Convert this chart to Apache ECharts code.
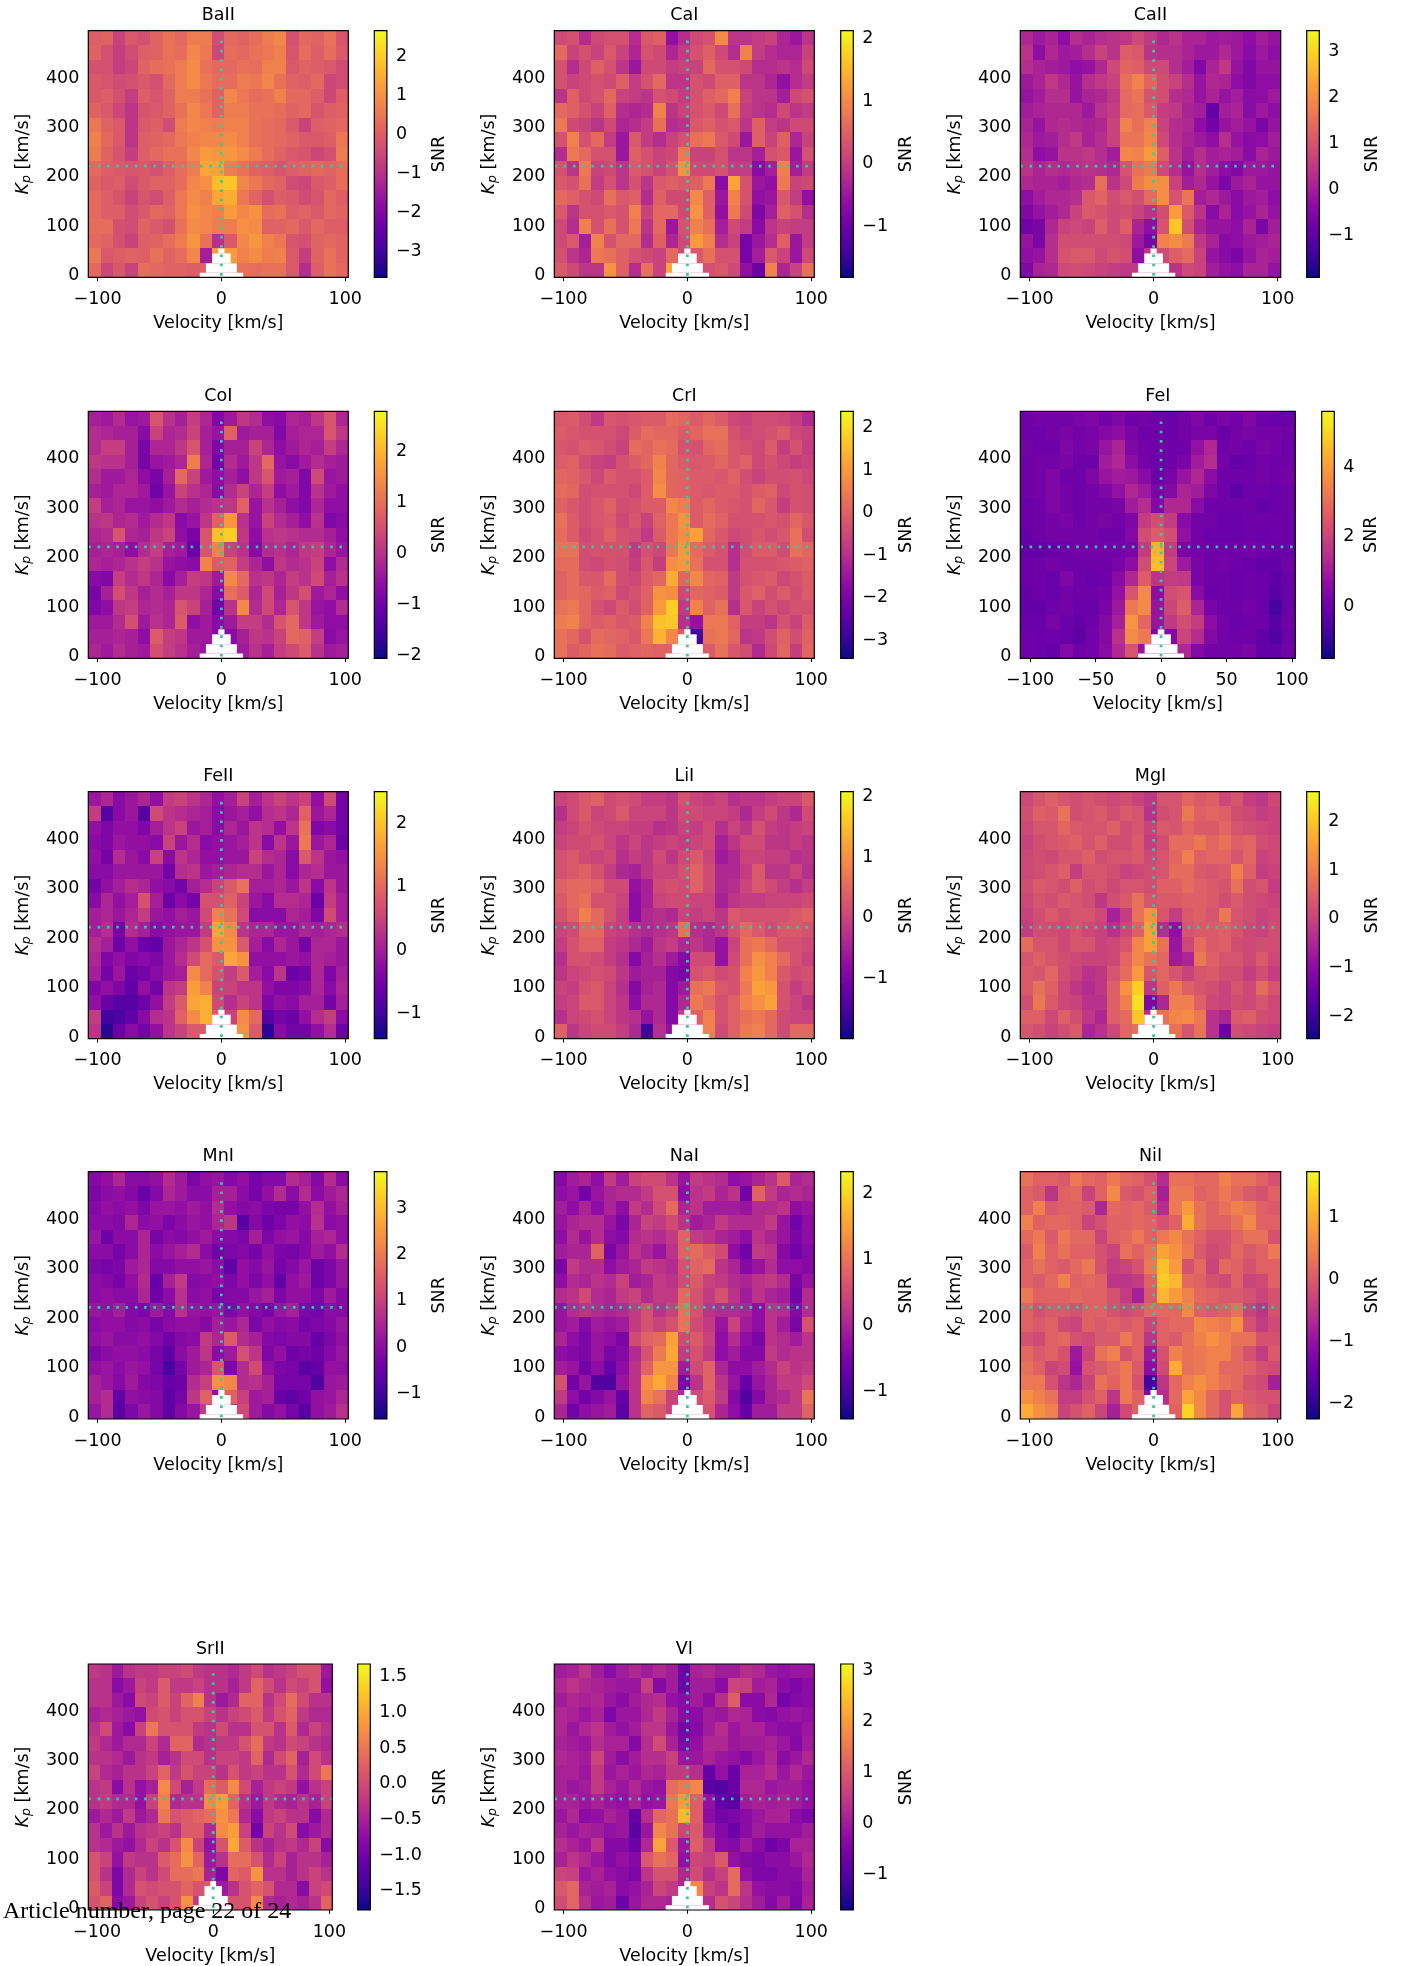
<!DOCTYPE html>
<html><head><meta charset="utf-8">
<style>html,body{margin:0;padding:0;background:#fff}#c{width:1402px;height:1966px}</style>
<script src="https://cdn.jsdelivr.net/npm/echarts@6/dist/echarts.min.js"></script>
</head><body><div id="c"></div>
<script>
// SNR values in tenths at a reduced resolution:
// 21 velocity columns (10 km/s) and 17 Kp rows, listed from the top row down.
const BaII=[[0,1,-6,-1,-3,1,4,2,6,6,-4,2,1,3,6,8,-3,2,1,4,-2],[1,-3,-7,-4,0,1,4,3,8,5,-5,3,2,4,5,7,-2,3,0,3,-1],[-3,-3,-7,-5,1,3,4,6,9,4,2,2,4,3,7,7,-1,1,0,-1,-4],[-1,-2,-4,-3,-1,-3,2,6,9,5,3,3,6,5,8,4,1,0,2,-5,-4],[-1,0,-3,-7,0,-2,1,6,6,4,1,8,5,3,4,7,2,2,0,-5,0],[1,-1,-5,-9,-2,-1,1,4,8,5,1,6,6,4,4,3,1,2,-2,0,1],[5,1,-1,-9,-1,0,-4,6,8,7,6,7,7,4,3,2,-1,-6,0,1,2],[7,2,-1,-9,0,1,2,5,7,8,8,9,7,4,3,2,1,-1,-1,0,5],[6,1,-2,-7,0,2,4,4,8,12,11,11,9,6,3,1,-1,-2,-5,-3,6],[2,0,-1,-2,-1,-3,0,3,6,14,13,6,4,1,0,-2,0,1,2,1,3],[1,-1,0,-4,-1,1,1,3,8,10,18,19,8,5,2,1,-4,-5,-1,0,3],[2,0,-2,-6,-2,-4,0,5,9,7,14,15,5,1,-3,0,-1,-4,-2,2,0],[2,0,0,-4,-1,2,1,5,10,8,7,12,8,10,3,4,0,1,-1,2,1],[3,3,-3,-4,1,-1,-3,4,9,8,6,6,10,9,1,1,2,-1,2,0,0],[2,1,-3,-6,0,1,3,6,11,4,-10,-1,8,11,7,5,-2,-3,1,2,1],[5,-1,0,1,0,4,1,3,8,-14,12,12,7,9,6,7,-1,-7,1,4,1],[2,-5,-1,-6,3,2,1,1,0,1,1,1,4,3,4,4,-1,-11,0,4,2]];
const CaI=[[2,3,-2,2,3,3,-2,4,5,-6,-2,2,3,10,-1,-1,0,1,-3,-5,-1],[6,1,3,1,4,1,-3,3,2,-3,0,3,5,2,-2,9,0,-2,-3,-3,1],[3,-2,2,5,3,-1,-5,2,2,0,1,1,6,3,3,2,-2,-2,-1,-2,2],[3,1,2,3,2,5,0,3,6,-1,-1,3,2,5,5,-1,-1,-3,-6,-2,0],[-1,5,2,3,6,1,0,-1,3,2,0,3,5,6,9,1,-1,-1,-4,2,3],[6,5,3,1,5,-2,-3,-2,9,-1,1,3,4,2,7,0,-1,-2,2,-1,0],[8,2,1,-1,2,-3,-2,0,7,-2,-1,4,5,3,4,-1,5,0,-1,2,2],[3,9,3,6,0,-5,4,0,-2,1,3,7,8,4,2,-5,5,1,5,-3,1],[-2,8,6,3,3,-5,5,3,1,2,8,1,1,3,-1,-1,-4,3,4,-5,3],[3,-1,8,1,2,-1,4,3,1,3,11,2,2,3,0,0,-7,-4,9,-4,0],[4,3,7,0,3,-1,3,-1,4,5,4,5,8,-7,13,3,-5,-6,8,1,2],[6,5,3,2,7,4,5,-2,5,2,2,10,5,-5,9,3,-6,-5,4,0,-6],[4,-1,3,3,4,3,9,1,6,6,2,11,5,-6,8,2,-8,-4,5,3,-2],[2,-2,9,3,7,3,8,-1,6,-5,3,9,7,-4,2,0,-7,-1,1,0,0],[2,4,-4,9,3,6,6,-2,5,-3,2,12,9,-2,1,-9,-5,-2,5,-5,0],[3,-1,-3,8,7,5,3,2,1,6,2,4,7,3,3,-9,-4,4,1,-5,2],[4,2,-1,-1,11,5,-2,7,1,13,3,3,3,4,2,-6,-10,9,-3,1,7]];
const CaII=[[2,-1,1,-3,3,1,3,4,5,8,5,2,4,1,1,-1,0,-1,-3,0,-2],[4,-3,2,-1,0,3,7,4,12,11,4,3,3,1,-1,-1,2,-1,-4,-1,-3],[3,1,0,-1,-3,-2,2,8,13,12,8,8,3,0,-5,1,5,-2,-5,-2,-2],[-1,1,5,2,-2,3,5,7,15,18,13,9,7,3,-2,2,1,-3,-5,-3,-3],[-2,0,3,3,-2,1,2,5,14,16,10,9,3,2,-2,1,-2,0,-4,-3,-1],[0,1,2,2,2,-1,4,6,14,15,11,6,5,1,0,-9,0,1,-4,-1,-3],[1,-2,2,3,2,1,2,7,18,15,18,7,3,2,-3,-7,-2,0,-2,-6,-2],[2,-1,0,3,5,1,3,7,16,16,19,8,3,1,-1,-3,3,-2,-4,-3,0],[3,-3,-2,4,4,5,3,0,19,18,22,12,4,0,3,0,1,0,-4,1,-1],[4,1,3,2,3,4,3,2,10,15,17,8,3,-2,3,0,-3,-5,-1,-1,-2],[2,1,1,0,2,3,15,4,8,17,20,20,7,0,2,-2,-6,-1,1,-2,-2],[-3,0,2,2,3,11,13,9,11,9,14,20,10,16,0,2,-1,-4,-1,0,-3],[-5,-2,0,2,7,11,10,8,9,7,4,9,22,11,4,-4,1,-4,-2,1,-2],[-7,-6,2,7,8,7,12,8,12,1,-3,10,28,9,1,-2,-2,-3,1,-6,0],[-2,-6,3,9,9,9,9,9,8,-1,-6,18,20,17,5,1,-4,-3,-1,0,1],[-3,-2,3,10,11,11,8,10,9,-3,4,8,12,14,7,-2,-4,-6,-2,1,0],[-5,1,2,8,9,8,7,6,5,5,5,5,4,8,7,0,-2,-3,1,1,-2]];
const CoI=[[-3,-4,-1,-5,-4,6,0,-3,2,-2,-8,-4,1,-1,-6,-7,-2,-3,1,6,-2],[-1,-2,-3,-3,-7,3,-2,-1,3,-3,-5,8,-4,-3,-3,-8,-3,-2,-2,6,1],[-1,2,2,-3,-9,-2,-2,1,6,-3,-8,-3,-3,3,-2,-6,-4,-2,-3,2,-2],[1,0,0,-3,-9,-5,-4,-2,12,-2,-10,-1,-4,1,9,-5,-7,-4,-1,-3,-4],[-1,-4,-4,-2,-6,-9,-3,9,3,-4,-6,-3,-6,1,6,-4,-3,-8,4,-5,-4],[-3,-4,-2,-2,-4,-10,-5,3,0,-2,-7,-1,3,-2,2,-6,-4,-8,0,-4,-6],[2,-3,-2,-5,-5,-6,-4,-1,-3,-1,0,1,8,-5,0,-3,-6,-8,-2,-6,-6],[0,1,-2,-1,-4,-1,1,-7,-5,1,8,16,0,-5,3,-1,-3,-6,0,-8,-7],[-2,-1,6,-2,-3,1,3,-6,-9,6,21,23,1,-6,0,1,0,-1,-1,-3,-6],[-3,-2,-3,-6,-1,2,-3,-4,-11,6,13,3,0,-7,-1,0,-2,1,2,-2,-5],[-2,-3,-2,0,2,0,-5,-6,-7,13,7,8,2,-2,-6,1,-1,0,3,-6,-1],[-7,-8,2,-1,1,-2,-7,-3,2,1,-4,14,9,0,1,-2,2,0,4,-3,0],[-9,-3,5,1,-3,-1,-3,1,1,-2,-7,10,7,-2,4,-3,1,5,-4,-2,-6],[-8,-6,1,2,-2,-1,-2,6,3,-3,-10,0,14,-1,4,-2,6,1,-5,-6,-1],[-4,-4,-1,5,-4,0,-2,7,-6,-4,-7,-4,2,2,-1,6,9,1,-4,-6,-6],[-3,-3,-2,-3,-6,7,2,1,-4,-4,-7,-7,-3,1,0,3,9,8,2,-7,-5],[-2,-4,-1,-3,-4,5,2,0,-3,-5,-4,-3,-4,0,-3,2,4,7,0,-4,-3]];
const CrI=[[-2,-1,-4,-8,-2,-3,-2,-1,-1,2,1,-1,1,-1,-5,-6,-4,-4,-5,-7,-11],[-1,-2,-3,-3,-3,-5,-1,2,1,1,-1,1,3,3,-3,-5,-4,-3,-1,-5,-6],[-2,-3,-1,-2,-4,-6,2,1,3,2,-3,-3,1,2,-2,-3,-5,-1,-7,-3,-7],[-1,0,-4,-6,-7,-3,-1,1,6,1,-1,-2,-1,1,-2,0,-5,-3,-5,-7,-6],[1,0,-2,-5,-1,-3,-3,-1,7,1,0,-1,-1,-2,0,-4,-6,-4,-4,-3,-5],[2,1,-4,-3,-3,-3,-5,-1,8,1,0,-1,-2,-1,-1,-3,-1,0,-5,-3,-4],[0,-2,-4,-2,0,-4,-3,-1,-1,7,5,-1,1,-1,-2,-3,1,-2,-7,-3,-4],[3,-1,-4,-2,-1,-5,-2,-6,0,4,9,-1,2,0,-3,-3,-3,-2,-3,1,-2],[2,-1,-5,-3,0,-3,-4,-8,-1,4,8,11,1,-2,-5,-4,-2,-4,-2,3,-4],[3,3,-4,-3,-3,-3,-8,-3,-5,4,10,2,-1,-3,-10,-4,-1,-1,-4,3,1],[2,2,-4,-5,-3,-4,-7,-2,-7,8,10,3,-3,-3,-10,-3,-3,-3,-2,-1,0],[0,2,-2,-2,2,-4,-5,-1,1,13,1,7,1,0,-8,-3,-2,-1,-5,-3,-1],[0,2,1,-1,0,-5,-3,0,9,8,-5,1,0,-1,-8,-2,0,-4,-1,-4,-1],[3,4,1,-3,-5,-1,-4,0,10,18,-8,6,0,3,-10,-2,-6,-3,-5,-3,-3],[5,6,1,-1,0,-2,-1,6,16,17,-10,-16,4,4,0,-7,-7,-9,-3,-6,-1],[3,1,-3,2,1,0,-2,4,14,7,-1,-28,3,4,1,-9,-8,-4,0,-4,0],[3,-1,1,3,2,-1,0,1,0,0,-1,0,-1,3,-2,-4,-11,-5,1,-7,1]];
const FeI=[[0,1,1,1,2,3,1,3,0,1,0,-1,1,3,0,2,1,3,0,-1,-1],[0,0,1,2,1,2,4,6,2,0,0,-1,1,2,2,-1,1,2,1,1,0],[1,0,0,3,1,2,8,12,3,1,0,0,0,7,13,0,1,0,2,1,-1],[0,1,1,2,0,0,10,13,6,1,-1,0,2,10,14,1,-2,-1,1,0,0],[0,1,3,0,0,3,8,10,9,5,-1,2,8,13,6,0,0,0,1,0,1],[0,1,3,1,0,1,3,7,13,9,2,4,12,10,3,0,-3,0,0,-1,0],[-1,0,3,1,0,1,1,2,10,14,4,13,13,5,0,0,0,0,-2,-1,0],[-1,0,1,2,0,1,2,1,3,18,22,18,5,1,1,-1,-1,0,0,0,-1],[-2,0,1,1,1,1,0,0,4,22,26,22,7,1,-1,-1,-1,0,-1,0,-1],[-2,-2,-1,0,1,1,1,1,2,18,44,18,2,1,0,0,0,1,0,-1,-1],[-1,0,1,0,0,0,0,2,6,22,46,20,9,2,0,1,0,-1,-2,-2,0],[-1,0,-1,3,0,-1,0,5,13,26,16,18,17,2,0,0,-1,0,-1,-3,-1],[-2,0,-1,1,0,0,1,7,24,36,6,22,24,5,-1,0,-1,0,-1,-4,-1],[-2,-2,0,1,-1,-1,2,9,32,36,8,20,26,12,2,0,0,1,-1,-7,-1],[-1,-1,2,-1,-2,0,4,11,38,28,8,17,22,18,6,1,-1,0,0,-4,0],[0,-1,0,-1,-3,1,4,15,36,32,3,4,20,14,4,1,0,0,-2,-5,-1],[0,-1,-2,4,0,1,5,13,24,8,4,4,13,4,1,1,1,2,-2,-2,0]];
const FeII=[[-1,1,-3,-1,1,-2,4,5,3,1,-2,0,5,0,3,5,3,5,-2,6,-5],[4,-8,-3,-1,-8,6,3,2,1,0,-3,-1,0,-2,2,3,1,9,-1,1,-5],[-2,-4,-2,-2,-4,0,3,5,-1,0,-3,1,-1,3,2,-2,3,11,-4,-3,-5],[-3,-4,-1,-2,-2,-3,5,-1,2,-3,-2,-1,0,3,-3,3,-1,12,-1,1,-6],[-2,-5,2,-1,-3,5,-3,3,1,-2,-2,-1,-1,5,2,1,-3,8,3,-1,-2],[-3,-3,-1,-1,-1,-1,-5,2,3,-1,0,1,2,2,-1,1,-3,1,2,-1,-1],[-5,-2,0,2,1,-2,-3,-5,0,2,5,8,11,0,0,1,-1,3,-3,3,-1],[-3,1,-2,0,7,0,-6,-3,-5,7,7,9,5,-1,-3,2,2,1,-6,4,0],[0,1,-1,1,4,-1,-2,0,-1,6,13,11,6,-3,-3,-3,1,0,-4,6,0],[0,2,-5,2,0,-3,-2,-1,-1,4,17,14,3,1,1,-1,-1,1,0,1,2],[2,0,-6,-2,-6,-7,-1,1,3,7,15,15,8,0,-3,1,-1,-5,1,1,-1],[1,-4,-2,-4,-3,-4,-1,2,6,10,8,17,15,-2,-2,-2,-1,-2,1,0,-1],[0,-5,-1,-6,-5,-3,-1,0,14,10,7,4,8,0,-3,3,-6,-5,1,-4,0],[-4,-2,-4,-7,-2,-5,3,4,16,13,5,5,3,3,-2,-4,-4,-3,1,-3,1],[-2,-6,-8,-8,-6,-2,4,8,17,18,6,2,5,3,-4,-2,-3,0,0,-5,0],[4,-10,-9,-7,-3,2,3,9,14,18,8,5,14,10,-8,-5,-6,-2,2,4,-3],[3,-12,-6,-3,-5,-2,3,5,8,8,5,5,15,8,-12,-3,-5,-5,-2,2,-6]];
const LiI=[[0,1,3,4,1,2,1,-1,-1,-2,2,0,-1,0,-3,-2,-2,-1,0,0,3],[-3,1,3,0,1,3,0,0,0,-2,1,1,0,0,-1,-4,-1,1,-2,-4,1],[-1,0,2,1,0,0,-1,-1,-3,-2,0,-1,1,-3,0,-2,2,-1,-2,-1,0],[0,1,1,2,0,-2,0,-2,-1,0,-1,0,1,-5,-2,1,1,-2,-2,-1,-2],[2,3,1,0,1,-3,-1,-2,1,-2,1,3,0,-6,-4,0,0,-1,-1,-3,-2],[2,3,4,2,-1,-4,-5,-2,0,0,2,4,1,-4,-4,-1,3,-2,-2,0,-3],[4,5,5,4,1,1,-7,-5,1,2,1,4,1,-4,-3,0,3,1,-1,-3,-1],[3,5,6,2,2,0,-8,-5,0,1,1,0,0,-5,-2,-1,-1,0,0,0,1],[2,4,8,5,2,-1,-8,-4,-3,-4,0,-1,0,-2,3,2,2,2,2,3,4],[0,1,5,5,0,-1,-3,-4,-3,-2,6,-3,-4,-2,2,5,3,1,3,3,2],[-1,2,4,4,-1,-2,-4,-6,-2,-1,-4,-2,-4,-7,0,6,7,5,2,2,1],[-3,2,2,1,-1,-3,-9,-5,-3,-6,-9,1,1,-7,1,6,10,8,5,2,0],[-2,0,1,2,1,-2,-6,-5,-5,-9,-10,2,3,1,2,8,11,8,3,1,2],[0,-1,2,3,0,-3,-9,-5,-4,-9,-6,6,7,3,2,7,12,11,2,-1,1],[-1,0,3,3,0,-2,-8,-4,-4,-9,-4,7,5,2,4,8,10,12,2,0,-2],[-3,0,1,2,0,-2,-3,-7,-4,-9,-1,4,8,2,4,6,7,5,1,0,0],[4,-2,0,1,1,-1,-4,-16,-3,-7,-1,-1,8,1,4,7,8,5,1,5,5]];
const MgI=[[1,3,5,3,2,3,2,1,2,0,-2,3,3,6,4,5,1,3,-1,-2,1],[2,5,4,8,2,3,4,2,4,3,-3,2,3,9,5,6,5,2,1,-1,0],[1,3,3,6,4,3,3,5,2,3,0,4,3,6,4,4,6,3,2,1,0],[0,2,3,4,5,3,5,2,2,4,-1,2,7,7,9,6,8,5,6,2,1],[1,2,1,3,3,5,2,3,3,4,1,3,6,10,5,6,6,3,6,0,1],[1,2,3,5,-1,3,3,2,0,1,2,3,7,7,4,3,4,10,5,-1,0],[2,4,3,2,5,2,3,1,3,3,2,5,5,7,5,4,3,8,2,3,-1],[1,3,2,4,3,2,-2,2,4,8,3,4,4,5,5,4,2,4,2,1,0],[0,2,4,2,3,3,1,-6,-1,8,13,3,-1,4,5,3,9,3,2,0,1],[-1,2,2,1,3,1,0,-3,1,5,15,-4,-9,3,4,4,5,3,1,0,2],[7,3,3,1,3,3,0,1,3,11,15,8,-8,1,7,4,5,2,1,2,2],[3,5,3,2,1,0,0,1,6,11,8,6,-7,-5,9,5,3,3,1,4,1],[4,3,6,2,0,-3,-2,3,7,14,3,6,3,0,3,4,2,2,-1,2,-1],[4,8,5,1,-2,-4,-2,5,13,21,-2,5,9,5,3,2,0,3,1,7,3],[2,9,4,1,0,-3,-3,5,10,23,-12,-5,10,10,5,1,0,2,1,3,1],[5,5,1,5,2,-2,-5,5,7,20,-4,8,11,12,9,-3,-5,4,5,2,1],[3,2,0,2,4,-5,-3,1,6,8,3,3,8,3,8,-3,-14,2,1,0,-1]];
const MnI=[[-1,1,5,0,0,1,6,3,-2,1,2,-1,1,-3,-1,-1,6,4,-1,6,0],[-2,0,1,-1,-5,-1,5,3,0,0,4,4,0,-3,1,6,0,6,0,3,5],[-1,1,0,1,-2,2,2,1,3,1,6,1,-1,0,-2,-3,-3,1,6,1,4],[0,0,-1,5,0,1,-2,0,2,1,5,8,-7,-1,-4,-2,1,0,7,0,1],[2,-4,0,0,5,-3,0,-1,1,3,0,-1,-2,4,-2,1,2,-1,4,5,1],[0,0,-3,0,5,0,2,4,6,0,-4,-2,-1,-3,1,-2,-3,-1,3,1,6],[-2,-3,-2,3,5,-1,-1,1,1,2,0,-6,1,-1,2,-3,-1,2,-4,-2,2],[0,-1,-3,1,6,-5,4,9,-1,0,1,-2,1,-2,1,-6,1,3,-4,-2,2],[0,1,0,0,5,-4,0,7,0,1,-3,-1,-1,2,4,-2,1,1,-2,3,-1],[2,1,4,-1,-2,3,-1,7,2,1,2,-2,1,-1,-3,2,4,-2,-3,0,-1],[0,1,1,-1,0,-3,0,1,1,-1,4,2,5,-2,1,-1,0,-3,-2,-1,2],[1,2,0,0,1,-1,-4,-1,0,9,5,15,6,4,-1,-2,-1,-1,-5,-2,1],[-2,0,1,1,0,-3,-6,0,3,8,0,3,13,8,-2,1,-4,-3,-4,-1,2],[1,2,0,2,1,-3,-9,-3,3,5,14,-2,6,12,1,-2,-3,-7,-5,1,1],[4,2,-1,3,-1,-2,-5,-4,6,10,24,22,6,7,4,-3,-3,-3,-8,2,3],[4,6,-6,1,0,-1,-6,-3,8,16,1,16,10,3,4,-5,-6,-4,1,2,5],[2,6,-7,-2,2,-1,-6,-1,2,9,3,3,12,3,-1,1,-3,-7,1,3,7]];
const NaI=[[-4,-1,0,-3,3,-1,4,5,5,2,-2,3,2,1,-3,-2,0,2,7,0,1],[-3,-2,-6,-2,0,1,1,3,6,6,-3,2,3,0,2,-6,8,3,0,1,0],[-1,-3,0,-3,0,-3,3,1,5,9,0,2,-1,-1,-1,-2,1,1,2,-3,-2],[-2,0,1,1,-2,-5,0,4,3,5,2,-1,0,3,1,1,1,3,-2,-6,-3],[-3,1,-2,1,-3,-4,1,2,1,3,8,3,2,0,-1,-3,2,0,-2,-5,-3],[-1,0,0,8,-5,-2,2,0,-2,2,8,9,7,5,-3,-6,3,2,-4,-6,-4],[-5,3,1,1,-3,-1,0,3,2,1,6,8,9,2,0,-4,-2,1,-3,-3,-4],[-3,1,0,2,1,4,-1,0,3,2,5,7,4,3,1,0,2,3,1,-5,-2],[1,2,5,1,0,3,4,1,3,3,9,6,3,6,2,-1,2,0,-1,-6,1],[-2,1,2,1,0,1,3,6,2,4,10,6,2,1,1,0,-3,2,1,-4,1],[-2,-1,-4,-1,-2,-1,3,6,4,6,10,5,3,-2,4,-1,-3,2,-1,-5,6],[0,-3,-5,-2,-3,-5,5,8,9,15,5,7,4,-3,1,-3,-5,2,1,-1,2],[-3,-4,-5,-2,-5,-4,1,6,11,16,3,6,3,-3,-1,-4,-4,3,1,2,2],[-1,-2,-6,-3,-7,-3,2,8,14,14,-1,5,8,0,-3,-3,-1,1,4,2,3],[6,-6,-2,-9,-9,-2,2,13,16,12,-5,2,8,2,-2,-7,-2,0,3,3,5],[3,-3,-6,-4,-2,-7,2,12,10,4,1,5,7,3,-4,-9,-4,0,1,3,10],[0,-6,-3,-2,-1,-8,2,8,7,4,2,3,6,0,-3,-7,-1,-1,3,3,8]];
const NiI=[[3,1,1,0,4,2,1,4,2,1,-1,-6,3,3,2,2,5,3,3,1,-1],[1,0,-5,1,2,-3,1,6,0,-1,1,-8,4,4,1,2,4,2,0,-1,1],[1,5,0,1,1,0,-7,2,1,2,0,-6,4,8,3,1,3,5,4,1,0],[5,1,2,2,1,-3,-1,1,1,2,1,-1,1,10,3,1,1,3,6,1,1],[2,4,0,4,2,2,-3,1,2,4,1,4,6,3,1,-1,-1,1,3,3,-1],[0,5,1,3,1,1,-1,-3,3,1,3,9,7,4,0,-2,-1,2,0,1,4],[1,3,1,0,2,4,-1,-4,-3,-1,4,12,8,-1,2,-3,2,1,-1,1,1],[1,0,2,5,1,2,1,-5,-5,-4,1,13,11,2,1,-1,-2,1,-3,-2,1],[4,1,1,1,2,1,1,-1,-4,-8,0,11,8,5,2,1,0,0,-1,-3,-1],[1,-1,0,0,-1,1,1,-1,-2,-1,2,2,2,6,1,0,1,3,-3,-5,-1],[1,0,1,-2,-3,1,0,1,0,1,-3,1,2,2,6,5,4,7,-1,-4,-2],[-1,-2,1,2,-1,-2,0,0,4,1,-5,1,0,3,5,7,5,3,3,-1,-1],[2,0,1,-1,-9,-3,3,5,-1,1,-9,-1,5,3,4,5,5,2,-1,-4,0],[3,1,-3,-2,-10,-1,0,2,4,0,-11,-2,10,3,4,5,2,2,1,-1,-2],[4,4,-1,-5,-7,-3,3,1,4,-1,-18,-5,2,5,7,5,3,2,-1,-2,-8],[7,5,3,-4,-4,-1,1,-5,4,1,-12,-6,2,9,6,2,-1,1,0,-1,-1],[10,7,5,-3,-1,1,-3,-8,-2,1,-2,-2,1,14,6,2,-1,9,1,0,-3]];
const SrII=[[-2,-3,-6,-3,-2,-2,-1,-1,0,-2,-3,-3,-4,-2,0,-3,-2,-1,1,1,-6],[-3,-3,-8,-6,-1,-2,2,-2,-2,-1,-3,-3,-5,-2,3,0,-3,0,-1,1,-7],[-3,-3,-6,-8,0,-1,2,-1,3,6,-3,-6,-4,3,3,-3,0,4,0,-3,-3],[-5,-4,-5,-6,-7,0,1,-1,1,1,-1,-3,-1,0,2,-2,1,3,-2,-4,-4],[-3,0,-6,-8,-1,5,1,1,1,-2,-3,0,-3,-3,1,1,-3,2,-4,-1,-3],[-2,-4,-6,-4,-4,-1,-4,3,3,-4,-3,-2,-2,1,4,-2,-3,0,-1,-3,-4],[-3,-3,-4,-6,-3,-2,-5,-3,0,0,-3,-1,-1,-2,3,-4,0,3,-5,0,-3],[-1,-4,-5,-3,-3,-1,3,-2,1,-1,-1,-3,1,-2,-1,-3,-3,1,-4,0,5],[-3,-2,-8,-3,-7,-5,7,0,-5,-2,4,2,7,0,-5,-2,-1,-2,-7,-3,-1],[-3,-2,-4,-4,-7,-1,6,-4,-3,-3,7,9,3,-3,-6,-2,-4,-5,-3,-5,-1],[-6,-4,-6,-2,-6,-4,5,1,2,3,4,8,5,-4,-8,-2,-1,-3,-3,-8,-4],[-3,-6,-3,-6,-3,-2,-1,-3,2,2,-4,7,9,-1,-10,-1,-3,0,-8,-6,-4],[-3,-4,-6,-7,-4,-1,-3,1,7,-1,-7,1,10,2,-3,-5,-3,-2,-4,-1,-8],[1,-1,-7,-2,-3,-3,2,4,8,3,-6,-3,4,4,1,-4,-1,-5,-3,-3,-5],[1,-3,-9,-4,-1,-3,0,4,4,5,-5,-9,3,2,8,-3,-3,-5,-3,-1,-3],[2,-1,-9,-4,1,0,1,1,3,1,2,-6,-3,1,3,1,-4,-4,-8,-1,0],[1,3,-8,-6,-1,1,-1,1,8,-2,0,0,1,1,7,-4,-5,-4,-5,-3,3]];
const VI=[[0,1,4,0,-3,0,2,0,2,0,-7,1,2,0,0,3,2,-1,-2,-1,-1],[2,4,2,1,0,-1,-1,6,-4,0,-7,0,0,-3,7,6,0,1,-3,-5,-3],[0,2,1,2,-1,-3,0,2,3,-2,-3,0,-3,3,11,-3,-3,2,-6,-4,-3],[2,1,-1,1,-5,-1,-1,2,5,1,-3,-3,0,-1,2,1,-3,-4,-2,-1,-2],[2,-1,2,4,0,-2,0,4,4,-1,-6,-4,0,3,-1,1,1,-2,-3,-3,-1],[1,0,-1,3,1,1,-4,3,8,1,-5,-2,2,2,-1,0,0,1,-1,-4,0],[2,1,0,7,0,-3,0,3,3,6,-1,-1,1,-1,-2,-4,-1,2,-3,-1,2],[1,1,-1,5,-1,1,-1,2,1,5,5,3,-8,-2,-7,1,1,3,-1,2,-1],[1,-1,0,5,1,-1,2,-1,-2,13,15,17,-9,-10,-7,2,2,-1,0,0,-2],[1,1,-1,1,-1,-2,1,-2,-1,15,20,11,-2,-8,-9,0,1,0,1,0,-2],[-1,2,-3,-2,1,-1,-8,3,12,14,24,11,-3,-6,-5,-3,-1,1,1,-3,-5],[1,-1,1,0,-2,-1,-9,-1,17,14,7,10,0,-4,-7,-3,0,-2,-2,-2,0],[3,1,-1,4,-4,-4,-7,2,21,10,-1,11,5,-3,-4,0,-3,-7,-5,1,1],[1,4,2,-1,-4,-2,-4,10,14,12,-2,7,6,10,-2,-4,-5,-3,-3,-1,2],[7,6,-1,1,-2,-3,-5,4,9,9,2,8,3,6,13,-2,-5,-5,-3,-3,1],[10,12,1,0,1,-3,-2,1,7,5,2,17,6,4,13,4,-2,-3,-3,-4,0],[8,12,3,-1,0,-7,-1,2,2,1,1,1,3,9,7,3,0,-4,0,-5,1]];

const species=['BaII','CaI','CaII','CoI','CrI','FeI','FeII','LiI','MgI','MnI','NaI','NiI','SrII','VI'];
const grids={BaII,CaI,CaII,CoI,CrI,FeI,FeII,LiI,MgI,MnI,NaI,NiI,SrII,VI};
const snrMin={BaII:-3.68,CaI:-1.81,CaII:-1.92,CoI:-2.06,CrI:-3.43,FeI:-1.5,FeII:-1.4,LiI:-2.0,MgI:-2.45,MnI:-1.54,NaI:-1.42,NiI:-2.25,SrII:-1.77,VI:-1.7};
const snrMax={BaII:2.67,CaI:2.12,CaII:3.46,CoI:2.78,CrI:2.39,FeI:5.6,FeII:2.5,LiI:2.08,MgI:2.6,MnI:3.78,NaI:2.33,NiI:1.74,SrII:1.68,VI:3.12};
const snrTicks={BaII:[-3,-2,-1,0,1,2],CaI:[-1,0,1,2],CaII:[-1,0,1,2,3],CoI:[-2,-1,0,1,2],CrI:[-3,-2,-1,0,1,2],FeI:[0,2,4],FeII:[-1,0,1,2],LiI:[-1,0,1,2],MgI:[-2,-1,0,1,2],MnI:[-1,0,1,2,3],NaI:[-1,0,1,2],NiI:[-2,-1,0,1],SrII:[-1.5,-1,-0.5,0,0.5,1,1.5],VI:[-1,0,1,2,3]};
const velTicks=[-100,0,100], velTicksFeI=[-100,-50,0,50,100], kpTicks=[0,100,200,300,400];
const velStart=-107.5, velEnd=102.5, velStep=10, kpStart=-3.5, kpEnd=496;
const kpLine=222, velLine=0, kpLineTop=488;
const maskHalfWidth=[17.5,12.5,7.5,2.5], maskKpTop=[6,25,45,55];
const plasma=['#0d0887','#41049d','#6a00a8','#8f0da4','#b12a90','#cc4778','#e16462','#f2844b','#fca636','#fcce25','#f0f921'];

// layout in px: plot left/top/width/height, colour bar left, SNR label gap
const L={BaII:[88.3,30.7,260,246.7,374.3,52],CaI:[554.3,30.7,260,246.7,840.7,52],CaII:[1020.3,30.7,260.4,246.7,1306.7,52],
CoI:[88.3,411.3,260,247,374.3,52],CrI:[554.3,411.3,260,247,840.7,52],FeI:[1020.3,411.3,275,247,1321.7,36],
FeII:[88.3,791.7,260,247,374.3,52],LiI:[554.3,791.7,260,247,840.7,52],MgI:[1020.3,791.7,260.4,247,1306.7,52],
MnI:[88.3,1171.7,260,247.3,374.3,52],NaI:[554.3,1171.7,260,247.3,840.7,52],NiI:[1020.3,1171.7,260.4,247.3,1306.7,52],
SrII:[88.3,1664,244,246,357.7,69],VI:[554.3,1664,260,246,840.7,52]};

const font='"DejaVu Sans"', FS=17.5, ink='#000';
const minus=v=>String(v).replace('-','\u2212');
const opt={animation:false,backgroundColor:'#fff',title:[],grid:[],xAxis:[],yAxis:[],series:[],visualMap:[],graphic:[]};
const frame=(xi,yi)=>({type:'custom',xAxisIndex:xi,yAxisIndex:yi,z:9,silent:true,clip:false,data:[[0,0]],
  renderItem:(p)=>({type:'rect',shape:{x:p.coordSys.x,y:p.coordSys.y,width:p.coordSys.width,height:p.coordSys.height},style:{fill:'none',stroke:ink,lineWidth:1.2}})});

species.forEach(name=>{
  const [x,y,w,h,cx,snrGap]=L[name];
  const g=opt.grid.length;
  opt.grid.push({left:x,top:y,width:w,height:h},{left:cx,top:y,width:12.6,height:h});
  opt.title.push({text:name,left:x+w/2,top:y-24,padding:0,textAlign:'center',textStyle:{fontFamily:font,fontSize:FS,fontWeight:'normal',color:ink}});
  const vt=name==='FeI'?velTicksFeI:velTicks;
  opt.xAxis.push({type:'value',gridIndex:g,min:velStart,max:velEnd,splitLine:{show:false},axisLine:{show:false},
    axisTick:{show:true,length:5.5,customValues:vt,lineStyle:{color:ink,width:1.1}},
    axisLabel:{customValues:vt,formatter:minus,fontFamily:font,fontSize:FS,color:ink,margin:13},
    name:'Velocity [km/s]',nameLocation:'middle',nameGap:37,nameTextStyle:{fontFamily:font,fontSize:FS,color:ink}});
  opt.yAxis.push({type:'value',gridIndex:g,min:kpStart,max:kpEnd,splitLine:{show:false},axisLine:{show:false},
    axisTick:{show:true,length:5.5,customValues:kpTicks,lineStyle:{color:ink,width:1.1}},
    axisLabel:{customValues:kpTicks,fontFamily:font,fontSize:FS,color:ink,margin:9,padding:[3,0,0,0]},
    name:'{k|K}{p|p} [km/s]',nameLocation:'middle',nameGap:55,nameRotate:90,
    nameTextStyle:{fontFamily:font,fontSize:FS,color:ink,rich:{k:{fontFamily:font,fontSize:FS,fontStyle:'italic',color:ink},p:{fontFamily:font,fontSize:12.5,fontStyle:'italic',color:ink,verticalAlign:'bottom',padding:[7,0,0,0]}}}});
  opt.xAxis.push({type:'value',gridIndex:g+1,min:0,max:1,show:false});
  opt.yAxis.push({type:'value',gridIndex:g+1,position:'right',min:snrMin[name],max:snrMax[name],splitLine:{show:false},axisLine:{show:false},
    axisTick:{show:true,length:5.5,customValues:snrTicks[name],lineStyle:{color:ink,width:1.1}},
    axisLabel:{customValues:snrTicks[name],formatter:v=>minus(name==='SrII'?Number(v).toFixed(1):v),fontFamily:font,fontSize:FS,color:ink,margin:9,padding:[3,0,0,0]},
    name:'SNR',nameLocation:'middle',nameGap:snrGap-8,nameRotate:90,nameTextStyle:{fontFamily:font,fontSize:FS,color:ink}});

  const rows=grids[name], nR=rows.length, cellH=(kpEnd-kpStart)/nR, cells=[];
  rows.forEach((r,ri)=>r.forEach((v,ci)=>cells.push([velStart+(ci+.5)*velStep, kpStart+(nR-ri-.5)*cellH, v/10])));
  const heatIdx=opt.series.length;
  opt.series.push({type:'custom',name,xAxisIndex:g,yAxisIndex:g,z:2,silent:true,clip:true,data:cells,encode:{x:0,y:1},
    renderItem:(p,api)=>{
      const a=api.coord([api.value(0)-velStep/2,api.value(1)+cellH/2]), b=api.coord([api.value(0)+velStep/2,api.value(1)-cellH/2]);
      const x0=Math.round(a[0]),y0=Math.round(a[1]),x1=Math.round(b[0]),y1=Math.round(b[1]);
      return {type:'rect',shape:{x:x0,y:y0,width:x1-x0,height:y1-y0},style:{fill:api.visual('color')}};
    }});
  opt.visualMap.push({type:'continuous',show:false,seriesIndex:heatIdx,dimension:2,min:snrMin[name],max:snrMax[name],inRange:{color:plasma}});
  // white cut-out around the origin
  const mask=maskHalfWidth.map((hw,i)=>[-hw,hw,i?maskKpTop[i-1]:kpStart,maskKpTop[i]]);
  opt.series.push({type:'custom',xAxisIndex:g,yAxisIndex:g,z:3,silent:true,data:mask,encode:{x:[0,1],y:[2,3]},
    renderItem:(p,api)=>{
      const a=api.coord([api.value(0),api.value(3)]), b=api.coord([api.value(1),api.value(2)]);
      return {type:'rect',shape:{x:a[0],y:a[1],width:b[0]-a[0],height:b[1]-a[1]},style:{fill:'#fff'}};
    }});
  const dotted={type:'line',xAxisIndex:g,yAxisIndex:g,z:5,silent:true,showSymbol:false,symbol:'none',lineStyle:{color:'#2ecc9f',width:2.8,type:[2.6,6.7]}};
  opt.series.push(Object.assign({},dotted,{data:[[velStart,kpLine],[velEnd,kpLine]]}));
  opt.series.push(Object.assign({},dotted,{data:[[velLine,kpStart+3.5],[velLine,kpLineTop]]}));
  opt.series.push(frame(g,g));
  opt.series.push({type:'custom',xAxisIndex:g+1,yAxisIndex:g+1,z:2,silent:true,clip:false,data:[[0,0]],
    renderItem:(p)=>({type:'rect',shape:{x:p.coordSys.x,y:p.coordSys.y,width:p.coordSys.width,height:p.coordSys.height},
      style:{fill:new echarts.graphic.LinearGradient(0,1,0,0,plasma.map((c,i)=>({offset:i/(plasma.length-1),color:c})))}})});
  opt.series.push(frame(g+1,g+1));
});
opt.graphic.push({type:'text',left:3,top:1900,z:100,silent:true,style:{text:'Article number, page 22 of 24',fontFamily:'"Liberation Serif"',fontSize:24,fill:'#000'}});
echarts.init(document.getElementById('c'),null,{renderer:'canvas'}).setOption(opt);
</script></body></html>
